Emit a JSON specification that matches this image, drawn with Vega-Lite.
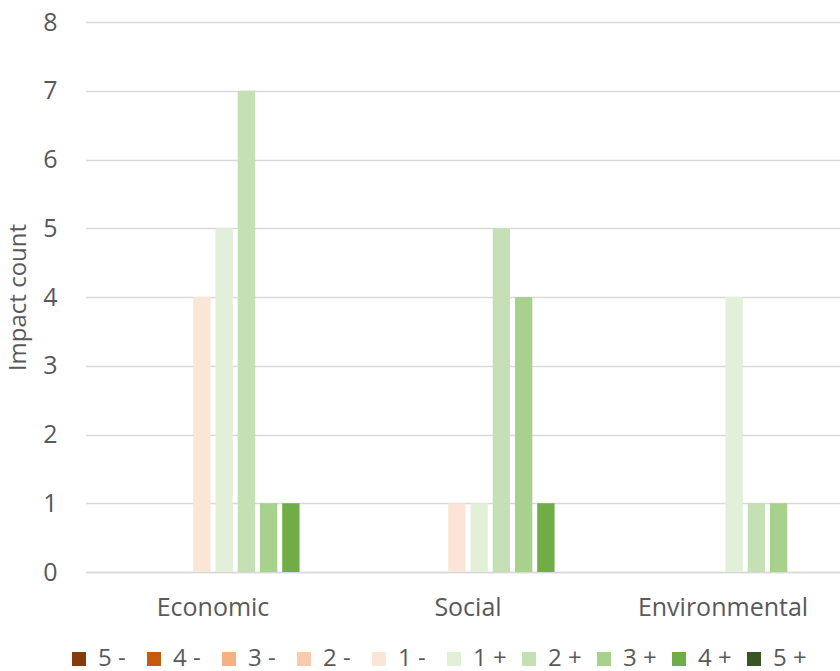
{
  "$schema": "https://vega.github.io/schema/vega-lite/v6.json",
  "width": 756,
  "height": 550,
  "autosize": {"type": "none"},
  "padding": {"left": 84, "top": 22, "right": 0, "bottom": 99},
  "background": "white",
  "config": {"view": {"stroke": null}, "font": "Open Sans"},
  "data": {
    "values": [
      {"dimension": "Economic", "level": "1 -", "count": 4},
      {"dimension": "Economic", "level": "1 +", "count": 5},
      {"dimension": "Economic", "level": "2 +", "count": 7},
      {"dimension": "Economic", "level": "3 +", "count": 1},
      {"dimension": "Economic", "level": "4 +", "count": 1},
      {"dimension": "Social", "level": "1 -", "count": 1},
      {"dimension": "Social", "level": "1 +", "count": 1},
      {"dimension": "Social", "level": "2 +", "count": 5},
      {"dimension": "Social", "level": "3 +", "count": 4},
      {"dimension": "Social", "level": "4 +", "count": 1},
      {"dimension": "Environmental", "level": "1 +", "count": 4},
      {"dimension": "Environmental", "level": "2 +", "count": 1},
      {"dimension": "Environmental", "level": "3 +", "count": 1}
    ]
  },
  "mark": {"type": "bar"},
  "encoding": {
    "x": {
      "field": "dimension",
      "type": "nominal",
      "sort": ["Economic", "Social", "Environmental"],
      "scale": {"range": [1.5, 766.5], "paddingInner": 0, "paddingOuter": 0},
      "axis": {
        "title": null,
        "labelAngle": 0,
        "labelFontSize": 25,
        "labelColor": "#595959",
        "labelPadding": 23,
        "ticks": false,
        "domainColor": "#d9d9d9",
        "domainWidth": 1.5
      }
    },
    "xOffset": {
      "field": "level",
      "type": "nominal",
      "scale": {
        "domain": ["5 -", "4 -", "3 -", "2 -", "1 -", "1 +", "2 +", "3 +", "4 +", "5 +"],
        "paddingInner": 0.22,
        "paddingOuter": 0.84
      }
    },
    "y": {
      "field": "count",
      "type": "quantitative",
      "scale": {"domain": [0, 8], "nice": false},
      "axis": {
        "title": "Impact count",
        "titleFontSize": 24,
        "titleFontWeight": "normal",
        "titleColor": "#595959",
        "titlePadding": 12,
        "values": [0, 1, 2, 3, 4, 5, 6, 7, 8],
        "labelFontSize": 25,
        "labelColor": "#595959",
        "labelPadding": 27,
        "ticks": false,
        "domain": false,
        "grid": true,
        "gridColor": "#d9d9d9",
        "gridWidth": 1.5
      }
    },
    "color": {
      "field": "level",
      "type": "nominal",
      "scale": {
        "domain": ["5 -", "4 -", "3 -", "2 -", "1 -", "1 +", "2 +", "3 +", "4 +", "5 +"],
        "range": ["#843C0C", "#C55A11", "#F4B183", "#F8CBAD", "#FBE5D6", "#E2F0D9", "#C5E0B4", "#A9D18E", "#70AD47", "#375623"]
      },
      "legend": {
        "title": null,
        "orient": "none",
        "legendX": -17,
        "legendY": 625,
        "padding": 0,
        "direction": "horizontal",
        "columns": 10,
        "gridAlign": "all",
        "symbolType": "square",
        "symbolSize": 196,
        "symbolStrokeWidth": 0,
        "labelFontSize": 24,
        "labelColor": "#595959",
        "labelOffset": 7,
        "columnPadding": 10
      }
    }
  }
}
